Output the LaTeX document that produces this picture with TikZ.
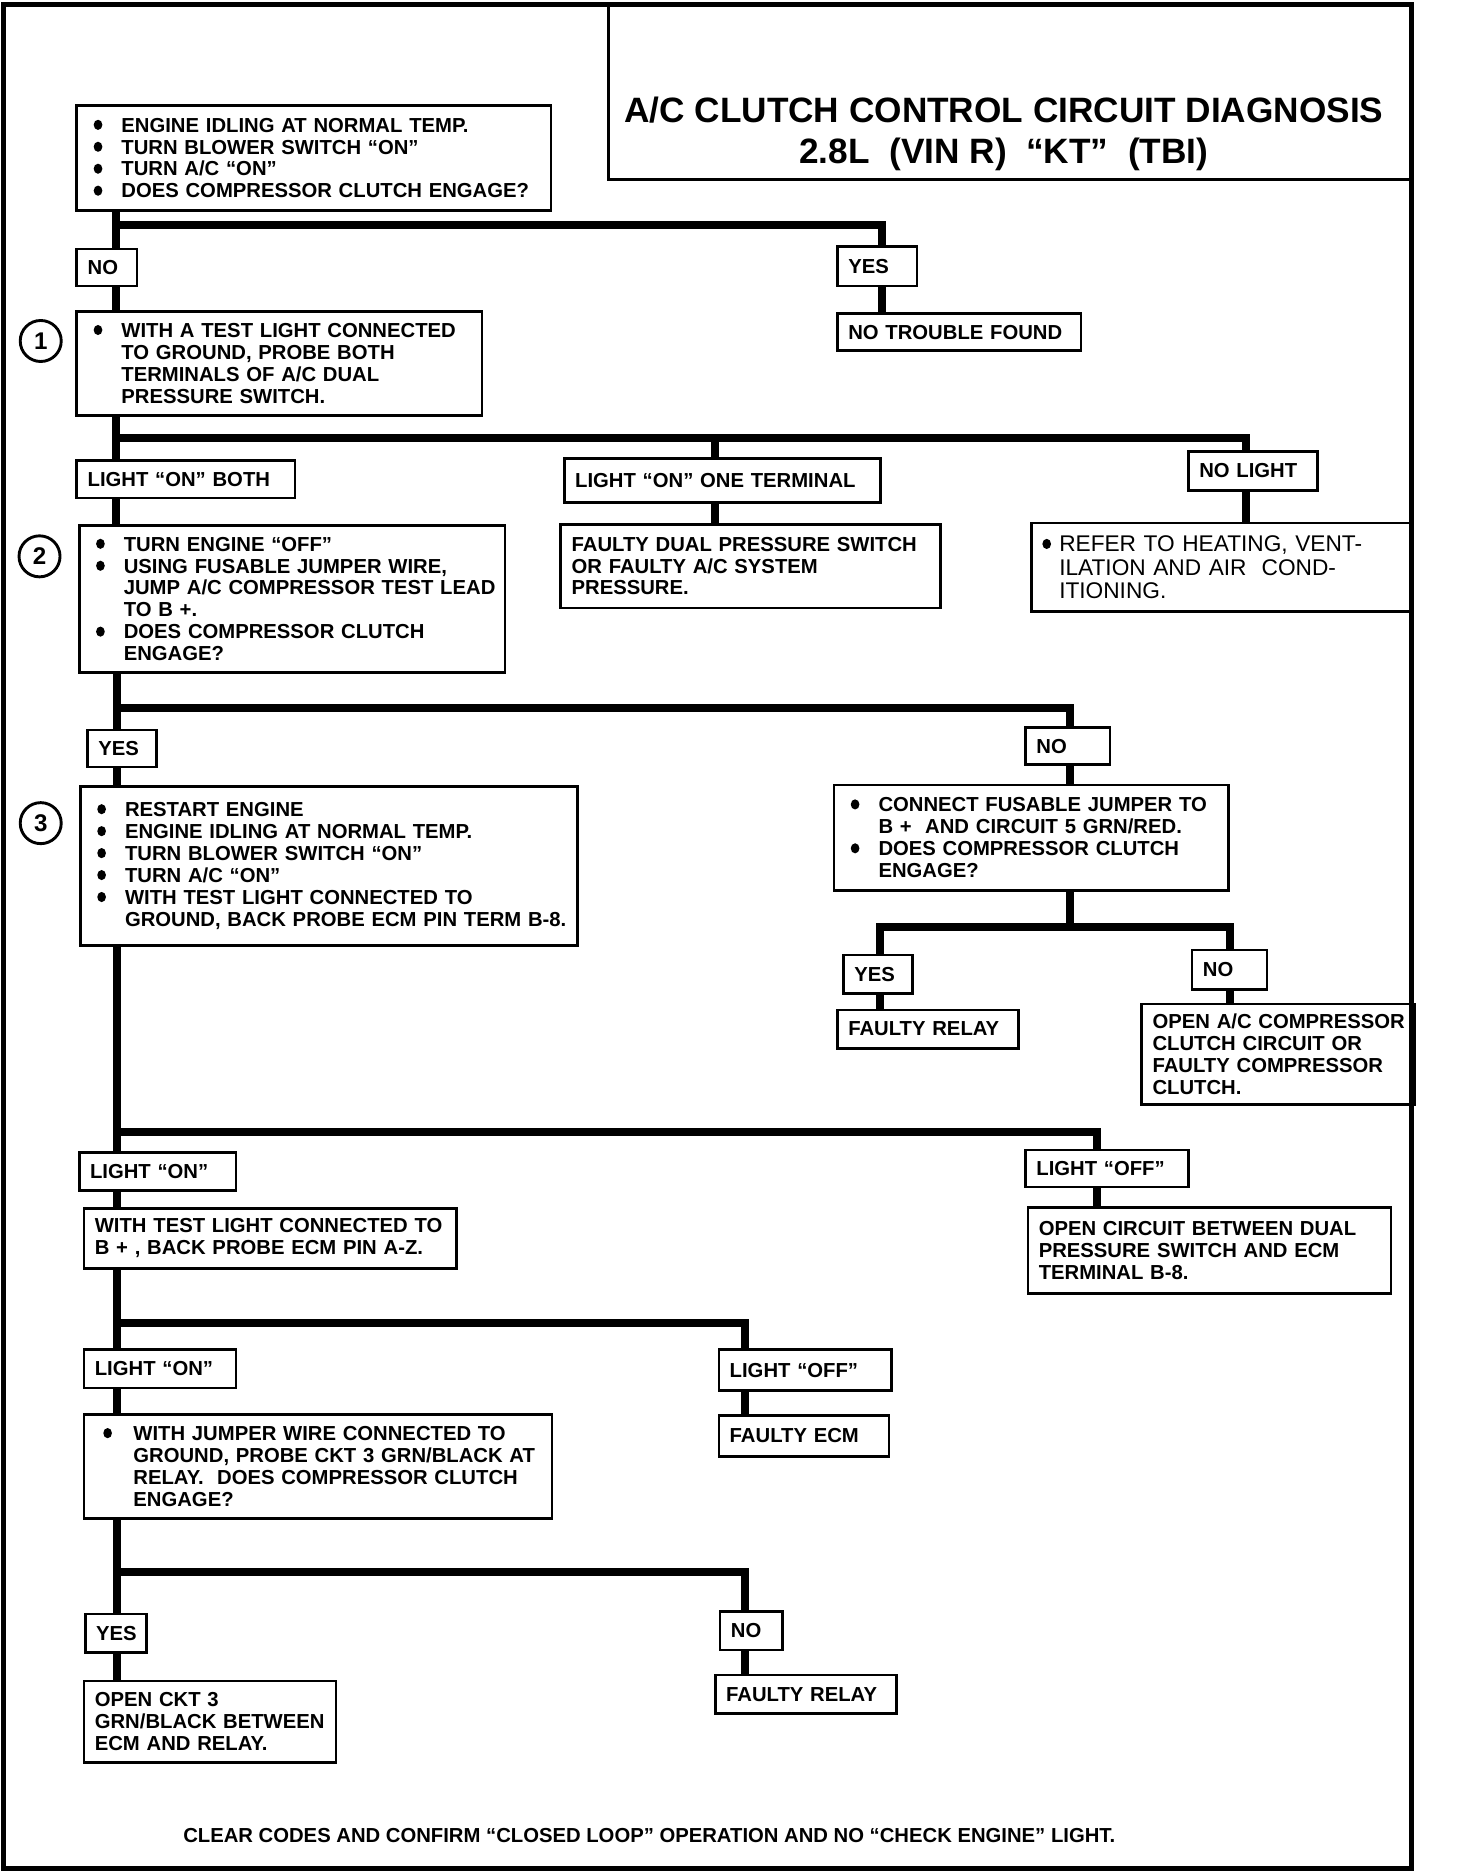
\documentclass[tikz,border=0pt]{standalone}
\usepackage{fontspec}
\setmainfont{Liberation Sans}
\usepackage{tikz}
\newcommand{\bdot}{\tikz[baseline=-3pt]\fill (0,0) ellipse [x radius=1.8pt,y radius=2.1pt];}
\newcommand{\bu}[1]{\makebox[14pt][l]{\hspace{2.5pt}\bdot}\mbox{#1}}
\newcommand{\hg}[1]{\hspace*{14pt}\mbox{#1}}

\begin{document}
\begin{tikzpicture}[x=0.5pt,y=-0.4959pt,
    box/.style={draw,line width=1.1pt,anchor=north west,align=left,
      inner xsep=4.5pt,inner ysep=0pt,font=\fontsize{8.4}{9.1}\selectfont\bfseries},
    wire/.style={line width=3.3pt},
    num/.style={draw,circle,line width=1.2pt,minimum size=17pt,inner sep=0pt,
      font=\fontsize{10}{10}\selectfont\bfseries}]
  \useasboundingbox (0,0) rectangle (1207,1568);
  \begin{scope}[xscale=0.993]
  \draw[line width=2pt] (3,4) rectangle (1178,1562);
  \draw[line width=1.2pt] (508,4) |- (1178,150);
  \node (title) at (838,112) [align=center,font=\fontsize{14.6}{17}\selectfont\bfseries]
     {A/C CLUTCH CONTROL CIRCUIT DIAGNOSIS\\2.8L\ \ (VIN R)\ \ “KT”\ \ (TBI)};

  % start
  \node (qA) at (63,87) [box,text width=187.5pt,minimum height=43.6pt]
     {\bu{ENGINE IDLING AT NORMAL TEMP.}\\\bu{TURN BLOWER SWITCH “ON”}\\
      \bu{TURN A/C “ON”}\\\bu{DOES COMPRESSOR CLUTCH ENGAGE?}};
  \node (nA) at (63,207) [box,text width=16pt,minimum height=15.4pt] {NO};
  \node (yA) at (698,205) [box,text width=24pt,minimum height=16.4pt] {YES};
  \node (rA) at (698,261) [box,text width=92pt,minimum height=15.4pt] {NO TROUBLE FOUND};

  % step 1
  \node[num] (c1) at (34,285) {1};
  \node (q1) at (63,259) [box,text width=159pt,minimum height=43.1pt]
     {\bu{WITH A TEST LIGHT CONNECTED}\\\hg{TO GROUND, PROBE BOTH}\\
      \hg{TERMINALS OF A/C DUAL}\\\hg{PRESSURE SWITCH.}};
  \node (l1a) at (63,384) [box,text width=81.5pt,minimum height=15.4pt] {LIGHT “ON” BOTH};
  \node (l1b) at (470,382) [box,text width=122pt,minimum height=18.3pt] {LIGHT “ON” ONE TERMINAL};
  \node (l1c) at (991,376) [box,text width=44.5pt,minimum height=16.4pt] {NO LIGHT};
  \node (r1b) at (467,437) [box,text width=148.5pt,minimum height=34.7pt]
     {\mbox{FAULTY DUAL PRESSURE SWITCH}\\OR FAULTY A/C SYSTEM\\PRESSURE.};
  \node (r1c) at (860,436) [box,text width=148.5pt,minimum height=36.7pt,
      font=\fontsize{9.4}{9.9}\selectfont]
     {\makebox[7pt][l]{\bdot}\mbox{REFER TO HEATING, VENT-}\\
      \hspace*{7pt}ILATION AND AIR\ \ COND-\\\hspace*{7pt}ITIONING.};

  % step 2
  \node[num] (c2) at (33,465) {2};
  \node (q2) at (65,438) [box,text width=167.5pt,minimum height=61pt]
     {\bu{TURN ENGINE “OFF”}\\\bu{USING FUSABLE JUMPER WIRE,}\\
      \hg{JUMP A/C COMPRESSOR TEST LEAD}\\\hg{TO B +.}\\
      \bu{DOES COMPRESSOR CLUTCH}\\\hg{ENGAGE?}};
  \node (y2) at (72,609) [box,text width=19.5pt,minimum height=15.4pt] {YES};
  \node (n2) at (855,607) [box,text width=26pt,minimum height=15.4pt] {NO};
  \node (q2n) at (695,655) [box,text width=154.5pt,minimum height=43.6pt]
     {\bu{CONNECT FUSABLE JUMPER TO}\\\hg{B + \ AND CIRCUIT 5 GRN/RED.}\\
      \bu{DOES COMPRESSOR CLUTCH}\\\hg{ENGAGE?}};
  \node (y2n) at (703,797) [box,text width=19.5pt,minimum height=15.9pt] {YES};
  \node (r2y) at (698,843) [box,text width=66pt,minimum height=15.9pt] {FAULTY RELAY};
  \node (n2n) at (994,793) [box,text width=22pt,minimum height=16.4pt] {NO};
  \node (r2n) at (952,838) [box,text width=104pt,minimum height=41.7pt]
     {\mbox{OPEN A/C COMPRESSOR}\\CLUTCH CIRCUIT OR\\\mbox{FAULTY COMPRESSOR}\\CLUTCH.};

  % step 3
  \node[num] (c3) at (34,688) {3};
  \node (q3) at (66,656) [box,text width=197pt,minimum height=66pt]
     {\bu{RESTART ENGINE}\\\bu{ENGINE IDLING AT NORMAL TEMP.}\\
      \bu{TURN BLOWER SWITCH “ON”}\\\bu{TURN A/C “ON”}\\
      \bu{WITH TEST LIGHT CONNECTED TO}\\\hg{GROUND, BACK PROBE ECM PIN TERM B-8.}};
  \node (l3a) at (65,962) [box,text width=56pt,minimum height=15.9pt] {LIGHT “ON”};
  \node (l3b) at (855,960) [box,text width=58.5pt,minimum height=15.4pt] {LIGHT “OFF”};
  \node (r3b) at (857,1008) [box,text width=141.5pt,minimum height=35.7pt]
     {\mbox{OPEN CIRCUIT BETWEEN DUAL}\\PRESSURE SWITCH AND ECM\\TERMINAL B-8.};
  \node (q4) at (69,1009) [box,text width=145.5pt,minimum height=24.8pt]
     {\mbox{WITH TEST LIGHT CONNECTED TO}\\B + , BACK PROBE ECM PIN A-Z.};

  % step 4
  \node (l4a) at (69,1127) [box,text width=54pt,minimum height=15.9pt] {LIGHT “ON”};
  \node (l4b) at (599,1127) [box,text width=62.5pt,minimum height=16.9pt] {LIGHT “OFF”};
  \node (r4b) at (599,1182) [box,text width=61.5pt,minimum height=16.9pt] {FAULTY ECM};
  \node (q5) at (69,1181) [box,text width=185pt,minimum height=43.1pt]
     {\makebox[16pt][l]{\hspace{3.5pt}\bdot}\mbox{WITH JUMPER WIRE CONNECTED TO}\\
      \hspace*{16pt}\mbox{GROUND, PROBE CKT 3 GRN/BLACK AT}\\
      \hspace*{16pt}\mbox{RELAY.\ \ DOES COMPRESSOR CLUTCH}\\\hspace*{16pt}ENGAGE?};

  % step 5
  \node (y5) at (70,1348) [box,text width=16.5pt,minimum height=15.9pt] {YES};
  \node (n5) at (600,1346) [box,text width=17pt,minimum height=15.9pt] {NO};
  \node (r5y) at (69,1404) [box,text width=95.5pt,minimum height=33.7pt]
     {OPEN CKT 3\\\mbox{GRN/BLACK BETWEEN}\\ECM AND RELAY.};
  \node (r5n) at (596,1399) [box,text width=66pt,minimum height=15.9pt] {FAULTY RELAY};

  \node (foot) at (542,1534) [font=\fontsize{8.4}{9}\selectfont\bfseries]
     {CLEAR CODES AND CONFIRM “CLOSED LOOP” OPERATION AND NO “CHECK ENGINE” LIGHT.};

  % connectors
  \coordinate (s0) at (97,188);
  \coordinate (e0) at (736,188);
  \draw[wire] (qA.south -| s0) -- (nA.north -| s0);
  \draw[wire] (nA.south -| s0) -- (q1.north -| s0);
  \draw[wire] (s0) -- (e0) -- (yA.north -| e0);
  \draw[wire] (yA.south -| e0) -- (rA.north -| e0);

  \coordinate (s1) at (97,366);
  \coordinate (m1) at (597,366);
  \coordinate (e1) at (1040,366);
  \draw[wire] (q1.south -| s1) -- (l1a.north -| s1);
  \draw[wire] (l1a.south -| s1) -- (q2.north -| s1);
  \draw[wire] (s1) -- (e1) -- (l1c.north -| e1);
  \draw[wire] (m1) -- (l1b.north -| m1);
  \draw[wire] (l1b.south -| m1) -- (r1b.north -| m1);
  \draw[wire] (l1c.south -| e1) -- (r1c.north -| e1);

  \coordinate (s2) at (98,592);
  \coordinate (e2) at (893,592);
  \draw[wire] (q2.south -| s2) -- (y2.north -| s2);
  \draw[wire] (y2.south -| s2) -- (q3.north -| s2);
  \draw[wire] (s2) -- (e2) -- (n2.north -| e2);
  \draw[wire] (n2.south -| e2) -- (q2n.north -| e2);

  \coordinate (s2n) at (893,775);
  \coordinate (a2n) at (735,775);
  \coordinate (b2n) at (1027,775);
  \draw[wire] (q2n.south -| s2n) -- (s2n);
  \draw[wire] (y2n.north -| a2n) -- (a2n) -- (b2n) -- (n2n.north -| b2n);
  \draw[wire] (y2n.south -| a2n) -- (r2y.north -| a2n);
  \draw[wire] (n2n.south -| b2n) -- (r2n.north -| b2n);

  \coordinate (s3) at (98,946);
  \coordinate (e3) at (916,946);
  \draw[wire] (q3.south -| s3) -- (l3a.north -| s3);
  \draw[wire] (l3a.south -| s3) -- (q4.north -| s3);
  \draw[wire] (s3) -- (e3) -- (l3b.north -| e3);
  \draw[wire] (l3b.south -| e3) -- (r3b.north -| e3);

  \coordinate (s4) at (98,1106);
  \coordinate (e4) at (622,1106);
  \draw[wire] (q4.south -| s4) -- (l4a.north -| s4);
  \draw[wire] (l4a.south -| s4) -- (q5.north -| s4);
  \draw[wire] (s4) -- (e4) -- (l4b.north -| e4);
  \draw[wire] (l4b.south -| e4) -- (r4b.north -| e4);

  \coordinate (s5) at (98,1314);
  \coordinate (e5) at (622,1314);
  \draw[wire] (q5.south -| s5) -- (y5.north -| s5);
  \draw[wire] (y5.south -| s5) -- (r5y.north -| s5);
  \draw[wire] (s5) -- (e5) -- (n5.north -| e5);
  \draw[wire] (n5.south -| e5) -- (r5n.north -| e5);
  \end{scope}
\end{tikzpicture}
\end{document}
